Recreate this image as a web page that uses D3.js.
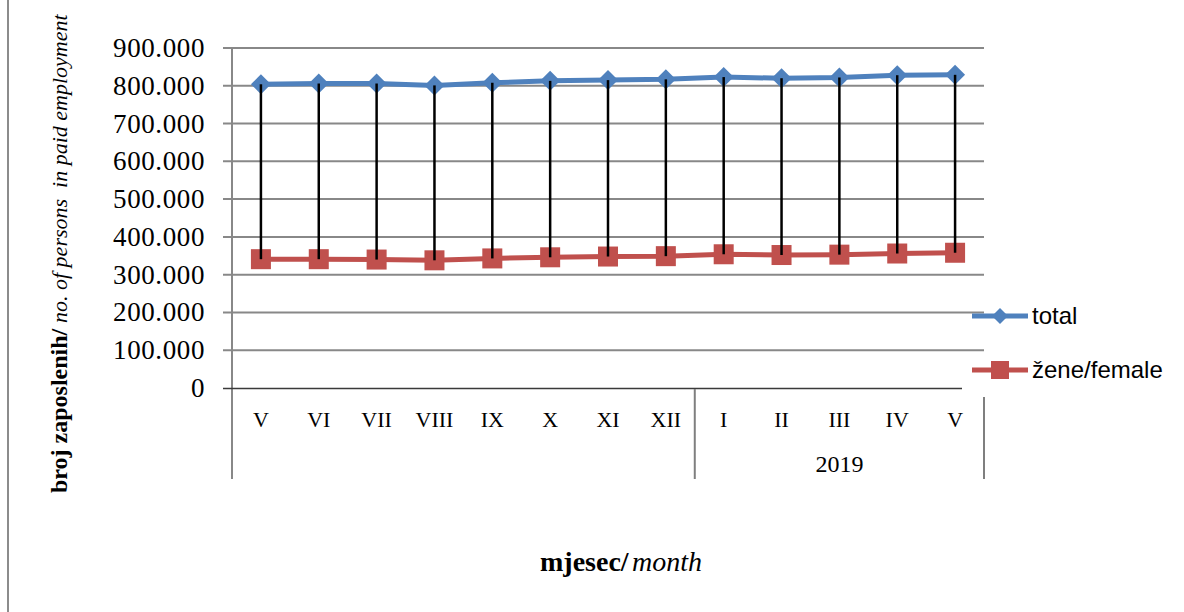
<!DOCTYPE html>
<html>
<head>
<meta charset="utf-8">
<script src="https://cdn.jsdelivr.net/npm/d3@7"></script>
<style>
 body { margin: 0; background: #fff; }
 svg { display: block; }
</style>
</head>
<body>
<div id="chart"></div>
<script>
// month labels along the category axis (May 2018 .. May 2019)
const months = ["V", "VI", "VII", "VIII", "IX", "X", "XI", "XII", "I", "II", "III", "IV", "V"];
// year groups: first index, last index, label
const yearStarts = [0, 8];
const yearEnds = [7, 12];
const yearLabels = ["", "2019"];
// persons in paid employment
const total = [804000, 806000, 806000, 801000, 808000, 813000, 815000, 817000, 823000, 820000, 822000, 828000, 829000];
const female = [341000, 341000, 340000, 338000, 343000, 346000, 348000, 349000, 354000, 352000, 353000, 356000, 358000];
const seriesNames = ["total", "žene/female"];
const yTicks = [0, 100000, 200000, 300000, 400000, 500000, 600000, 700000, 800000, 900000];

const width = 1184, height = 612;
const blue = "#4f81bd", red = "#c0504d", grid = "#888888";
const serif = "'Liberation Serif', 'Times New Roman', serif";

const svg = d3.select("#chart").append("svg")
 .attr("width", width)
 .attr("height", height);

// outer frame line on the left
svg.append("line")
 .attr("x1", 8).attr("x2", 8).attr("y1", 0).attr("y2", height)
 .attr("stroke", "#8c8c8c").attr("stroke-width", 2);

const x = d3.scaleBand()
 .domain(d3.range(months.length))
 .range([232, 984]);

const y = d3.scaleLinear()
 .domain([0, 900000])
 .range([388, 48]);

const fmt = d3.formatLocale({ decimal: ",", thousands: ".", grouping: [3], currency: ["", ""] }).format(",");

// gridlines + y tick labels
const yAxis = svg.append("g");
yAxis.selectAll("line.grid")
 .data(yTicks.filter(d => d > 0))
 .enter().append("line")
 .attr("class", "grid")
 .attr("x1", 223).attr("x2", 984)
 .attr("y1", d => y(d)).attr("y2", d => y(d))
 .attr("stroke", grid).attr("stroke-width", 2);

yAxis.selectAll("text")
 .data(yTicks)
 .enter().append("text")
 .attr("x", 205)
 .attr("y", d => y(d) + 9)
 .attr("text-anchor", "end")
 .style("font-family", serif)
 .style("font-size", "27px")
 .style("letter-spacing", "0.6px")
 .attr("fill", "#000")
 .text(d => fmt(d));

// y axis line
svg.append("line")
 .attr("x1", 232).attr("x2", 232).attr("y1", 48).attr("y2", 479)
 .attr("stroke", grid).attr("stroke-width", 2);

// category axis line and group separators
svg.append("line")
 .attr("x1", 223).attr("x2", 962).attr("y1", 388.5).attr("y2", 388.5)
 .attr("stroke", "#3a3a3a").attr("stroke-width", 1.5);

const seps = [x(yearStarts[1]), x.range()[1]];
svg.selectAll("line.sep")
 .data(seps)
 .enter().append("line")
 .attr("class", "sep")
 .attr("x1", d => d).attr("x2", d => d)
 .attr("y1", (d, i) => i === 0 ? 389 : 397)
 .attr("y2", 479)
 .attr("stroke", "#7f7f7f").attr("stroke-width", 2);

// month labels
svg.append("g").selectAll("text")
 .data(months)
 .enter().append("text")
 .attr("x", (d, i) => x(i) + x.bandwidth() / 2)
 .attr("y", 427)
 .attr("text-anchor", "middle")
 .style("font-family", serif)
 .style("font-size", "22px")
 .text(d => d);

// year labels
svg.append("g").selectAll("text")
 .data(yearLabels)
 .enter().append("text")
 .attr("x", (d, i) => (x(yearStarts[i]) + x(yearEnds[i]) + x.bandwidth()) / 2)
 .attr("y", 472)
 .attr("text-anchor", "middle")
 .style("font-family", serif)
 .style("font-size", "24px")
 .text(d => d);

const cx = i => x(i) + x.bandwidth() / 2;

const line = d3.line()
 .x((d, i) => cx(i))
 .y(d => y(d));

svg.append("path")
 .datum(total)
 .attr("d", line)
 .attr("fill", "none")
 .attr("stroke", blue)
 .attr("stroke-width", 5)
 .attr("stroke-linejoin", "round");

svg.append("path")
 .datum(female)
 .attr("d", line)
 .attr("fill", "none")
 .attr("stroke", red)
 .attr("stroke-width", 5)
 .attr("stroke-linejoin", "round");

const diamond = (px, py, r) => `M${px},${py - r}L${px + r},${py}L${px},${py + r}L${px - r},${py}Z`;

svg.append("g").selectAll("path")
 .data(total)
 .enter().append("path")
 .attr("d", (d, i) => diamond(cx(i), y(d), 10))
 .attr("fill", blue);

svg.append("g").selectAll("rect")
 .data(female)
 .enter().append("rect")
 .attr("x", (d, i) => cx(i) - 10)
 .attr("y", d => y(d) - 10)
 .attr("width", 20)
 .attr("height", 20)
 .attr("fill", red);

// high-low lines
svg.append("g").selectAll("line")
 .data(total)
 .enter().append("line")
 .attr("x1", (d, i) => cx(i)).attr("x2", (d, i) => cx(i))
 .attr("y1", d => y(d)).attr("y2", (d, i) => y(female[i]))
 .attr("stroke", "#000").attr("stroke-width", 2.5);

// legend
const legend = svg.append("g");
[0, 1].forEach(k => {
 const ly = k === 0 ? 316 : 370;
 legend.append("line")
 .attr("x1", 972).attr("x2", 1028).attr("y1", ly).attr("y2", ly)
 .attr("stroke", k === 0 ? blue : red).attr("stroke-width", 5);
 if (k === 0) {
 legend.append("path").attr("d", diamond(1000, ly, 8)).attr("fill", blue);
 } else {
 legend.append("rect").attr("x", 991).attr("y", ly - 9).attr("width", 18).attr("height", 18).attr("fill", red);
 }
 legend.append("text")
 .attr("x", 1032)
 .attr("y", ly + 8)
 .style("font-family", "'Liberation Sans', sans-serif")
 .style("font-size", "24px")
 .text(seriesNames[k]);
});

// y axis title
const yt = svg.append("g").attr("transform", "translate(67,493) rotate(-90)");
yt.append("text")
 .attr("x", 0).attr("y", 0)
 .style("font-family", serif)
 .style("font-size", "24px")
 .style("font-weight", "bold")
 .text("broj zaposlenih/");
yt.append("text")
 .attr("x", 170).attr("y", 0)
 .style("font-family", serif)
 .style("font-size", "22px")
 .style("font-style", "italic")
 .style("white-space", "pre")
 .text("no. of persons  in paid employment");

// x axis title
svg.append("text")
 .attr("x", 540).attr("y", 571)
 .style("font-family", serif)
 .style("font-size", "28px")
 .style("font-weight", "bold")
 .text("mjesec/");
svg.append("text")
 .attr("x", 632).attr("y", 571)
 .style("font-family", serif)
 .style("font-size", "28px")
 .style("font-style", "italic")
 .text("month");
</script>
</body>
</html>
